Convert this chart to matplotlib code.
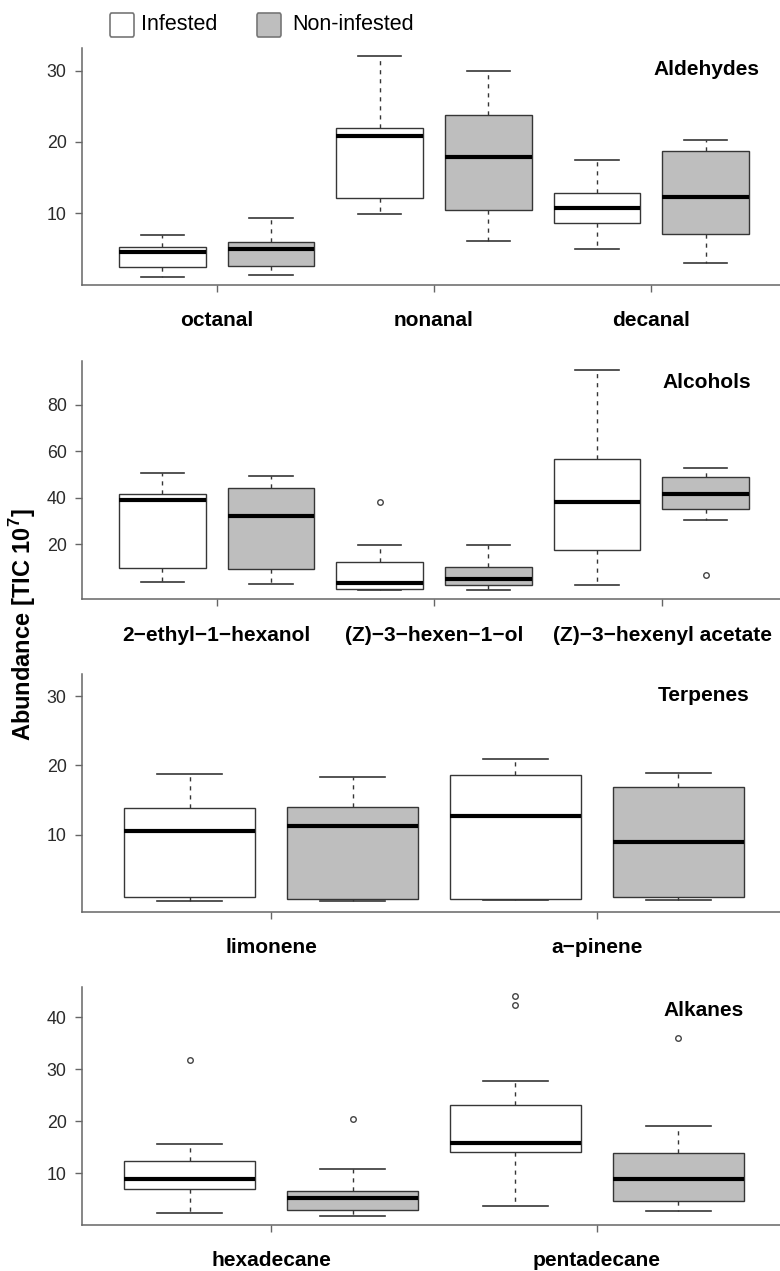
import numpy as np
import matplotlib
matplotlib.use('Agg')
import matplotlib.pyplot as plt
from matplotlib.patches import FancyBboxPatch

plt.rcParams['font.family'] = ['Liberation Sans', 'DejaVu Sans']
plt.rcParams['mathtext.fontset'] = 'custom'
plt.rcParams['mathtext.rm'] = 'Liberation Sans'
plt.rcParams['mathtext.bf'] = 'Liberation Sans:bold'

# five-number summaries per box: whisker low, Q1, median, Q3, whisker high
ald_names = ['octanal', 'nonanal', 'decanal']
ald_inf = [[1.1, 2.5, 4.5, 5.2, 7.0], [9.9, 12.2, 20.9, 22.0, 32.0], [5.0, 8.7, 10.7, 12.8, 17.5]]
ald_non = [[1.35, 2.6, 5.0, 5.9, 9.4], [6.1, 10.5, 17.9, 23.8, 29.9], [3.0, 7.1, 12.3, 18.8, 20.3]]
ald_inf_out = [[], [], []]
ald_non_out = [[], [], []]

alc_names = ['2\u2212ethyl\u22121\u2212hexanol', '(Z)\u22123\u2212hexen\u22121\u2212ol', '(Z)\u22123\u2212hexenyl acetate']
alc_inf = [[3.6, 9.5, 39.0, 41.7, 50.6], [0.2, 0.5, 3.2, 12.1, 19.6], [2.3, 17.4, 38.2, 56.5, 95.1]]
alc_non = [[2.8, 9.1, 32.2, 44.0, 49.4], [0.2, 2.3, 4.8, 10.1, 19.6], [30.5, 35.0, 41.4, 48.9, 52.8]]
alc_inf_out = [[], [38.0], []]
alc_non_out = [[], [], [6.5]]

ter_names = ['limonene', 'a\u2212pinene']
ter_inf = [[0.43, 0.93, 10.5, 13.8, 18.75], [0.58, 0.68, 12.66, 18.65, 21.0]]
ter_non = [[0.34, 0.64, 11.2, 14.06, 18.26], [0.49, 0.93, 8.94, 16.87, 18.9]]
ter_inf_out = [[], []]
ter_non_out = [[], []]

alk_names = ['hexadecane', 'pentadecane']
alk_inf = [[2.3, 6.9, 9.0, 12.3, 15.6], [3.8, 14.1, 15.8, 23.2, 27.75]]
alk_non = [[1.7, 2.9, 5.3, 6.65, 10.9], [2.75, 4.7, 9.0, 14.0, 19.1]]
alk_inf_out = [[31.8], [44.2, 42.3]]
alk_non_out = [[20.5], [36.0]]

titles = ['Aldehydes', 'Alcohols', 'Terpenes', 'Alkanes']
yticks = [[10, 20, 30], [20, 40, 60, 80], [10, 20, 30], [10, 20, 30, 40]]

# Layout (figure fractions), axis ranges and label tick positions
rects = [[0.1051, 0.7758, 0.9026, 0.1862],
         [0.1051, 0.5285, 0.9026, 0.1877],
         [0.1051, 0.2827, 0.9026, 0.1868],
         [0.1051, 0.0362, 0.9026, 0.1875]]
ylims = [(-0.06, 33.14), (-3.8, 99.0), (-1.16, 33.2), (0.06, 45.9)]
label_pos = [[1.5, 3.5, 5.5], [1.5, 3.5, 5.6], [1.5, 3.5], [1.5, 3.5]]
title_xy = [(0.962, 0.912), (0.950, 0.908), (0.948, 0.910), (0.940, 0.899)]

panels = [(ald_names, ald_inf, ald_non, ald_inf_out, ald_non_out),
          (alc_names, alc_inf, alc_non, alc_inf_out, alc_non_out),
          (ter_names, ter_inf, ter_non, ter_inf_out, ter_non_out),
          (alk_names, alk_inf, alk_non, alk_inf_out, alk_non_out)]

INF_COLOR = 'white'
NON_COLOR = '#BEBEBE'
EDGE = '#363636'
AXIS = '#666666'


def make_stats(five, out):
    lo, q1, med, q3, hi = five
    return {'whislo': lo, 'q1': q1, 'med': med, 'q3': q3, 'whishi': hi, 'fliers': out}


fig = plt.figure(figsize=(7.8, 12.71), dpi=100)

for k, (names, inf, non, inf_out, non_out) in enumerate(panels):
    ax = fig.add_axes(rects[k])
    stats, positions, faces = [], [], []
    for i in range(len(names)):
        stats += [make_stats(inf[i], inf_out[i]), make_stats(non[i], non_out[i])]
        positions += [2 * i + 1, 2 * i + 2]
        faces += [INF_COLOR, NON_COLOR]

    parts = ax.bxp(stats, positions=positions, widths=0.8, patch_artist=True,
                   boxprops=dict(edgecolor=EDGE, linewidth=1.0),
                   medianprops=dict(color='black', linewidth=3.0, solid_capstyle='butt'),
                   whiskerprops=dict(color=EDGE, linewidth=1.0, linestyle=(0, (3, 3.5))),
                   capprops=dict(color=EDGE, linewidth=1.2),
                   flierprops=dict(marker='o', markersize=4, markerfacecolor='none',
                                   markeredgecolor='#444444', markeredgewidth=1.0))
    for patch, fc in zip(parts['boxes'], faces):
        patch.set_facecolor(fc)

    n = 2 * len(names)
    pad = 0.04 * n
    ax.set_xlim(0.5 - pad, n + 0.5 + pad)
    ax.set_ylim(*ylims[k])

    ax.set_yticks(yticks[k])
    ax.set_yticklabels([str(t) for t in yticks[k]], fontsize=12.8, color='#2a2a2a')
    ax.set_xticks(label_pos[k])
    ax.set_xticklabels(names, fontsize=15, fontweight='bold')

    ax.tick_params(axis='y', length=5, width=1.0, color=AXIS, pad=6)
    ax.tick_params(axis='x', length=5, width=1.0, color=AXIS, pad=14)

    for side in ['top', 'right']:
        ax.spines[side].set_visible(False)
    for side in ['left', 'bottom']:
        ax.spines[side].set_color(AXIS)
        ax.spines[side].set_linewidth(1.1)

    tx, ty = title_xy[k]
    ax.text(tx, ty, titles[k], transform=ax.transAxes, ha='right', va='center',
            fontsize=15, fontweight='bold')

# y axis label
fig.text(23 / 780, 1 - 625 / 1271, r'Abundance [TIC 10$^{\mathbf{7}}$]', rotation=90,
         ha='center', va='center', fontsize=17, fontweight='bold')

# legend at the top
W, H = 780, 1271
for x0, fc, label, tx in [(110, INF_COLOR, 'Infested', 141), (257, NON_COLOR, 'Non-infested', 292)]:
    box = FancyBboxPatch((x0 / W, 1 - 37 / H), 24 / W, 24 / H,
                         boxstyle='round,pad=0,rounding_size=0.002',
                         transform=fig.transFigure, facecolor=fc, edgecolor='#777777', linewidth=1.2)
    fig.add_artist(box)
    fig.text(tx / W, 1 - 25 / H, label, ha='left', va='center', fontsize=15.5)

fig.savefig('out.png', dpi=100)
